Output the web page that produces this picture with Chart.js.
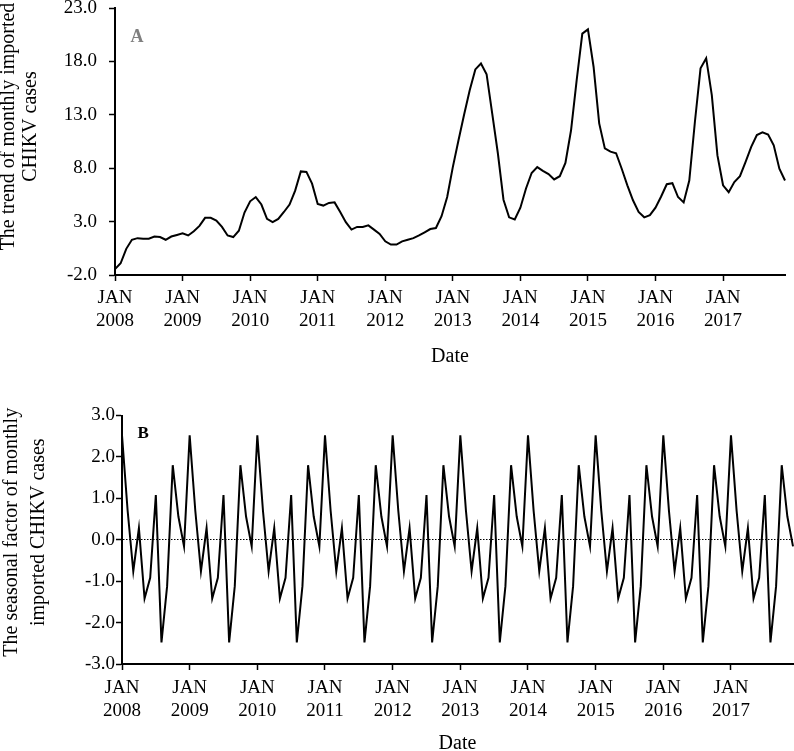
<!DOCTYPE html>
<html>
<head>
<meta charset="utf-8">
<script src="https://cdn.jsdelivr.net/npm/chart.js@4.4.1/dist/chart.umd.min.js"></script>
<style>
  html, body { margin: 0; padding: 0; background: #fff; }
  body { width: 794px; height: 751px; position: relative; overflow: hidden; font-family: 'Liberation Serif', serif; }
  canvas { position: absolute; left: 0; }
  #trendChart { top: 0; }
  #seasonalChart { top: 376px; }
  .panel-tag { position: absolute; font-weight: bold; line-height: 1; }
  #tagA { left: 130.5px; top: 27px; font-size: 18px; color: #7f7f7f; }
  #tagB { left: 137.5px; top: 424px; font-size: 17px; color: #000; }
</style>
</head>
<body>
<canvas id="trendChart" width="794" height="376"></canvas>
<canvas id="seasonalChart" width="794" height="384"></canvas>
<div class="panel-tag" id="tagA">A</div>
<div class="panel-tag" id="tagB">B</div>
<script>
const years = [2008, 2009, 2010, 2011, 2012, 2013, 2014, 2015, 2016, 2017];
const monthNames = ['JAN', 'FEB', 'MAR', 'APR', 'MAY', 'JUN', 'JUL', 'AUG', 'SEP', 'OCT', 'NOV', 'DEC'];

// trend of monthly imported CHIKV cases, Jan 2008 - Dec 2017
const trendValues = [
    -1.45, -0.9, 0.45, 1.3, 1.45, 1.4, 1.4, 1.6, 1.55, 1.3, 1.6, 1.75,
    1.9, 1.7, 2.1, 2.6, 3.35, 3.35, 3.1, 2.5, 1.7, 1.55, 2.15, 3.85,
    4.9, 5.3, 4.6, 3.25, 2.95, 3.25, 3.9, 4.6, 5.9, 7.7, 7.65, 6.55,
    4.65, 4.5, 4.75, 4.8, 3.9, 2.95, 2.25, 2.5, 2.5, 2.65, 2.25, 1.85,
    1.15, 0.85, 0.85, 1.15, 1.3, 1.45, 1.7, 2.0, 2.3, 2.4, 3.5, 5.3,
    8.1, 10.6, 13.0, 15.3, 17.25, 17.8, 16.8, 13.1, 9.4, 5.05, 3.4, 3.2,
    4.3, 6.1, 7.55, 8.1, 7.75, 7.45, 6.95, 7.25, 8.5, 11.55, 16.25, 20.6,
    21.0, 17.5, 12.2, 9.85, 9.55, 9.4, 7.95, 6.4, 5.0, 3.9, 3.4, 3.6,
    4.3, 5.35, 6.5, 6.6, 5.3, 4.8, 6.85, 12.35, 17.35, 18.3, 14.85, 9.2,
    6.4, 5.75, 6.7, 7.25, 8.6, 10.0, 11.1, 11.35, 11.15, 10.15, 7.95, 6.85
];

// seasonal factor, same for every year (JAN..DEC)
const seasonalByMonth = [2.52, 0.7, -0.76, 0.28, -1.42, -0.92, 1.08, -2.48, -1.12, 1.8, 0.56, -0.16];

const trendTicks = [-2, 3, 8, 13, 18, 23];
const seasonalTicks = [-3, -2, -1, 0, 1, 2, 3];

const months = [];
years.forEach((y) => monthNames.forEach((m) => months.push(`${m} ${y}`)));
const seasonalValues = months.map((label, i) => seasonalByMonth[i % 12]);

const serif = 'Liberation Serif';
const pad = (n) => ' '.repeat(n);

const xAxis = (tickPadding, titlePadBottom, height) => ({
    type: 'category',
    afterBuildTicks: (s) => { s.ticks = s.ticks.filter((t) => months[t.value].startsWith('JAN')); },
    afterFit: (s) => { s.height = height; s.paddingLeft = 0; s.paddingRight = 0; },
    ticks: {
        autoSkip: false,
        maxRotation: 0,
        padding: tickPadding,
        color: '#000',
        font: { family: serif, size: 19, lineHeight: 1.2 },
        callback: (value) => {
            const label = months[value];
            return label.startsWith('JAN') ? label.split(' ') : '';
        }
    },
    grid: { drawOnChartArea: false, tickLength: 6, tickColor: '#000', tickWidth: 1.5 },
    border: { color: '#000', width: 2 },
    title: {
        display: true,
        text: 'Date',
        color: '#000',
        font: { family: serif, size: 20, lineHeight: 1.2 },
        padding: { top: 0, bottom: titlePadBottom }
    }
});

const yAxis = (tickList, width, tickPadding, titleLines, titleLineHeight, zeroLine) => ({
    min: tickList[0],
    max: tickList[tickList.length - 1],
    afterBuildTicks: (s) => { s.ticks = tickList.map((v) => ({ value: v })); },
    afterFit: (s) => { s.width = width; s.paddingTop = 0; s.paddingBottom = 0; },
    ticks: {
        padding: tickPadding,
        color: '#000',
        font: { family: serif, size: 19 },
        callback: (v) => Number(v).toFixed(1)
    },
    grid: {
        drawOnChartArea: zeroLine,
        color: (c) => (zeroLine && c.tick && c.tick.value === 0 ? '#000' : 'rgba(0,0,0,0)'),
        lineWidth: 1,
        tickLength: 6,
        tickColor: '#000',
        tickWidth: 1.5
    },
    border: { color: '#000', width: 2, dash: zeroLine ? [1.5, 1.5] : [] },
    title: {
        display: true,
        text: titleLines,
        color: '#000',
        font: { family: serif, size: 20, lineHeight: titleLineHeight },
        padding: { top: -2, bottom: 0 }
    }
});

const lineSet = (data) => ({
    data,
    borderColor: '#000',
    borderWidth: 2,
    pointRadius: 0,
    tension: 0,
    fill: false
});

new Chart(document.getElementById('trendChart'), {
    type: 'line',
    data: { labels: months, datasets: [lineSet(trendValues)] },
    options: {
        responsive: false,
        animation: false,
        devicePixelRatio: 1,
        layout: { padding: { top: 8, right: 9, bottom: 0, left: 0 } },
        plugins: { legend: { display: false }, tooltip: { enabled: false } },
        scales: {
            x: xAxis(6, 7, 101),
            y: yAxis(trendTicks, 115, 12,
                [pad(6) + 'The trend of monthly imported', pad(6) + 'CHIKV cases'], 1.1, false)
        }
    }
});

new Chart(document.getElementById('seasonalChart'), {
    type: 'line',
    data: { labels: months, datasets: [lineSet(seasonalValues)] },
    options: {
        responsive: false,
        animation: false,
        devicePixelRatio: 1,
        layout: { padding: { top: 39.5, right: 1, bottom: 0, left: 0 } },
        plugins: { legend: { display: false }, tooltip: { enabled: false } },
        scales: {
            x: xAxis(7, 4.5, 96),
            y: yAxis(seasonalTicks, 122, 1,
                [pad(3) + 'The seasonal factor of monthly', pad(3) + 'imported CHIKV cases'], 1.35, true)
        }
    }
});
</script>
</body>
</html>
